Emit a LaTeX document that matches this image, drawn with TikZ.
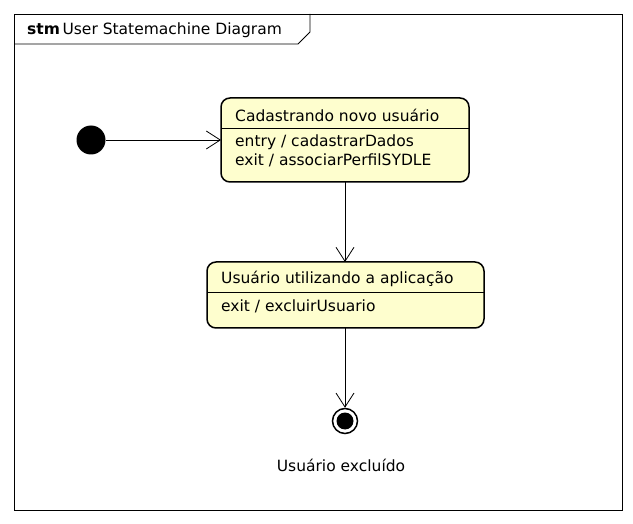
\documentclass[tikz,border=0pt]{standalone}
\usepackage{fontspec}
\setmainfont{DejaVu Sans}
\usepackage{tikz}
\usetikzlibrary{arrows.meta,calc,fit,positioning}
\definecolor{stbg}{HTML}{FEFECE}

\begin{document}
\begin{tikzpicture}[x=1pt,y=-1pt,>={Straight Barb[length=14pt,width=18pt]},
	every fit/.style={inner sep=0pt, outer sep=0pt},
	state/.style={draw, line width=1.5pt, rounded corners=9pt, fill=stbg},
	txt/.style={anchor=west, inner sep=0pt, font=\fontsize{15.5}{17}\selectfont},
	trans/.style={->, line width=0.8pt}]
	\useasboundingbox (0,0) rectangle (633,524);

	% frame and title tab
	\node [draw, line width=0.8pt, fit={(14,14) (622,510)}] (frame) {};
	\draw [line width=0.8pt] (14,44) -- (298,44) -- (310,32) -- (310,14);
	\node [txt] (title) at (27,30) {\textbf{stm}\,User Statemachine Diagram};

	% initial state
	\node [circle, fill=black, minimum size=29pt, inner sep=0pt] (start) at (91,140) {};

	% state 1
	\node [state, fit={(221,98) (469,182)}] (cad) {};
	\draw [line width=0.8pt] (cad.west |- 0,128) -- (cad.east |- 0,128);
	\node [txt] (cadname) at (235,115) {Cadastrando novo usuário};
	\node [txt] (cadentry) at (235,142) {entry / cadastrarDados};
	\node [txt] (cadexit) at (235,160) {exit / associarPerfilSYDLE};

	% state 2
	\node [state, fit={(207,262) (484,328)}] (uso) {};
	\draw [line width=0.8pt] (uso.west |- 0,292) -- (uso.east |- 0,292);
	\node [txt] (usoname) at (221,279) {Usuário utilizando a aplicação};
	\node [txt] (usoexit) at (221,306) {exit / excluirUsuario};

	% final state
	\node [circle, draw, line width=1.5pt, fill=white, minimum size=25pt, inner sep=0pt] (end) at (345,421) {};
	\node [circle, fill=black, minimum size=17pt, inner sep=0pt] at (end) {};
	\node [txt, anchor=center] (endlabel) at (341,465) {Usuário excluído};

	% transitions
	\draw [trans] (start) -- (cad.west |- start);
	\draw [trans] (cad.south -| 345,0) -- (uso.north -| 345,0);
	\draw [trans] (uso.south -| 345,0) -- (end.north);
\end{tikzpicture}
\end{document}
